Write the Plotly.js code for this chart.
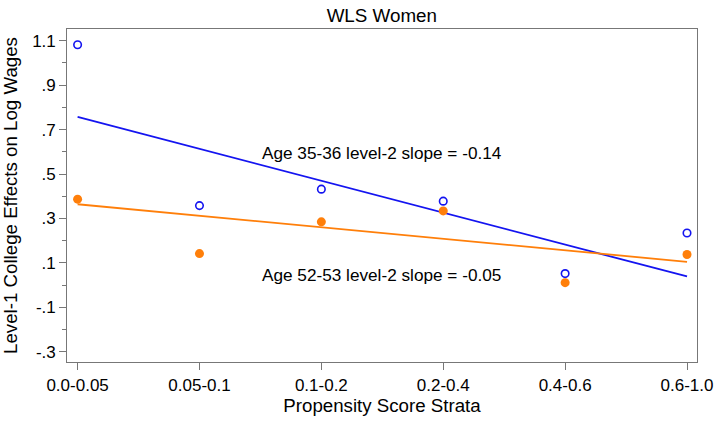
<!DOCTYPE html>
<html>
<head>
<meta charset="utf-8">
<script src="https://cdn.plot.ly/plotly-3.0.1.min.js"></script>
<style>html,body{margin:0;padding:0;background:#fff;}#chart{width:717px;height:422px;}</style>
</head>
<body>
<div id="chart"></div>
<script>
var categories = ["0.0-0.05", "0.05-0.1", "0.1-0.2", "0.2-0.4", "0.4-0.6", "0.6-1.0"];
var age3536 = [1.082, 0.358, 0.432, 0.378, 0.052, 0.235];
var age5253 = [0.387, 0.142, 0.285, 0.334, 0.011, 0.138];
var fitCats = ["0.0-0.05", "0.6-1.0"];
var fit3536 = [0.757, 0.039];
var fit5253 = [0.364, 0.105];
var yTickVals = [1.1, 0.9, 0.7, 0.5, 0.3, 0.1, -0.1, -0.3];
var yTickText = ["1.1", ".9", ".7", ".5", ".3", ".1", "-.1", "-.3"];
var label3536 = "Age 35-36 level-2 slope = -0.14";
var label5253 = "Age 52-53 level-2 slope = -0.05";

var blue = "#1414f0";
var orange = "#ff7f0a";
var font = "Liberation Sans, Arial, sans-serif";

var traces = [
  {x: fitCats, y: fit3536, mode: "lines", line: {color: blue, width: 1.8}, hoverinfo: "skip"},
  {x: fitCats, y: fit5253, mode: "lines", line: {color: orange, width: 1.8}, hoverinfo: "skip"},
  {x: categories, y: age3536, mode: "markers", marker: {symbol: "circle-open", size: 7.5, color: blue, line: {color: blue, width: 1.6}}},
  {x: categories, y: age5253, mode: "markers", marker: {symbol: "circle", size: 9, color: orange}}
];

var layout = {
  width: 717, height: 422,
  margin: {l: 67, r: 20, t: 29, b: 60, pad: 0},
  paper_bgcolor: "#fff", plot_bgcolor: "#fff",
  showlegend: false,
  font: {family: font, color: "#000"},
  title: {text: "WLS Women", font: {size: 18.8, family: font, color: "#000"}, x: 0.5325, xanchor: "center", y: 0.963, yanchor: "middle"},
  xaxis: {
    type: "category",
    categoryorder: "array", categoryarray: categories,
    range: [-0.087, 5.082],
    showgrid: false, zeroline: false,
    showline: true, linecolor: "#777", linewidth: 1.3, mirror: true,
    ticks: "outside", ticklen: 7, tickwidth: 1, tickcolor: "#777",
    tickfont: {size: 17, family: font, color: "#000"},
    title: {text: "Propensity Score Strata", font: {size: 18.7, family: font, color: "#000"}, standoff: 4}
  },
  yaxis: {
    range: [-0.346, 1.153],
    tickmode: "array", tickvals: yTickVals, ticktext: yTickText,
    showgrid: false, zeroline: false,
    showline: true, linecolor: "#777", linewidth: 1.3, mirror: true,
    ticks: "outside", ticklen: 6.5, tickwidth: 1, tickcolor: "#777",
    minor: {tickmode: "linear", tick0: 0, dtick: 0.2, ticks: "outside", ticklen: 4, tickcolor: "#777", showgrid: false},
    tickfont: {size: 17, family: font, color: "#000"},
    title: {text: "Level-1 College Effects on Log Wages", font: {size: 18.7, family: font, color: "#000"}, standoff: 10}
  },
  annotations: [
    {text: label3536, xref: "paper", yref: "paper", x: (381.7 - 67) / 630, y: (362 - 153.3) / 333, xanchor: "center", yanchor: "middle", showarrow: false, font: {size: 17.2, family: font, color: "#000"}},
    {text: label5253, xref: "paper", yref: "paper", x: (381.7 - 67) / 630, y: (362 - 275) / 333, xanchor: "center", yanchor: "middle", showarrow: false, font: {size: 17.2, family: font, color: "#000"}}
  ]
};

Plotly.newPlot("chart", traces, layout, {displayModeBar: false, staticPlot: true});
</script>
</body>
</html>
